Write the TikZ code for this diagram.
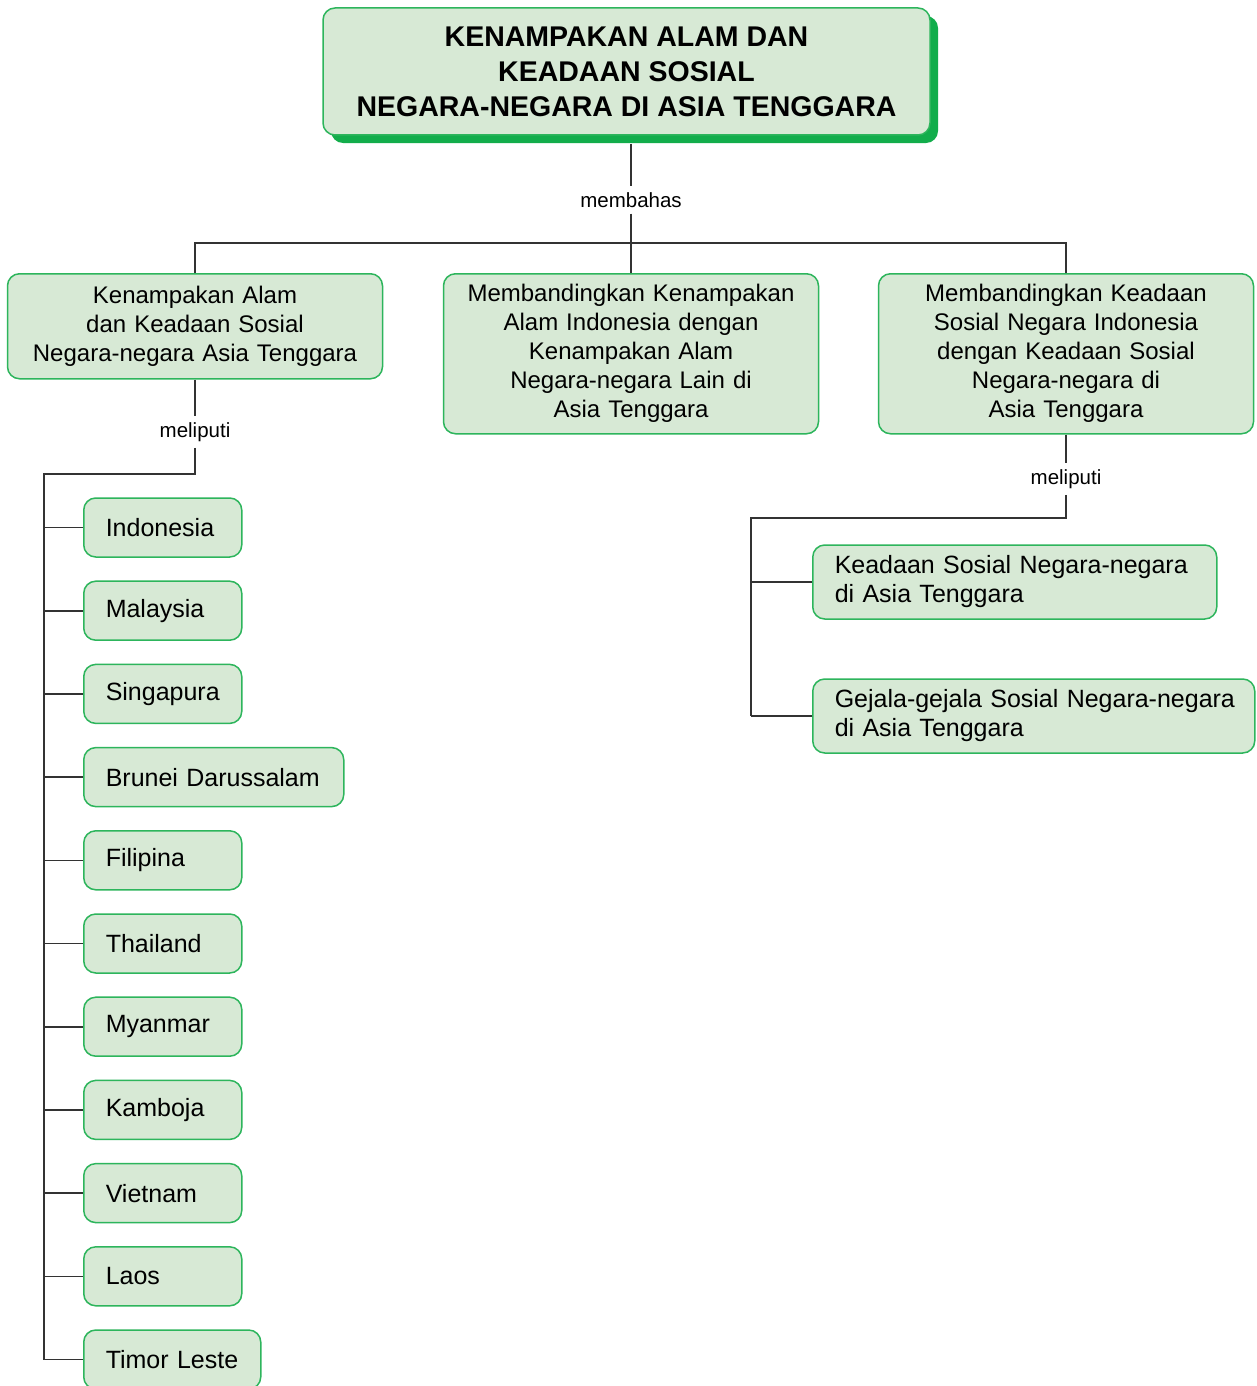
\documentclass[tikz,border=0pt]{standalone}
\usepackage{fontspec}
\setmainfont{Liberation Sans}
\newfontfamily\bodyf{Liberation Sans}[WordSpace=1.4]
\usetikzlibrary{shadows}
\definecolor{boxfill}{HTML}{D7E9D5}
\definecolor{boxline}{HTML}{2DB55C}
\definecolor{shadowg}{HTML}{12AD4B}
\definecolor{linec}{HTML}{333333}
\begin{document}
\begin{tikzpicture}[x=1pt,y=-1pt,
  box/.style={draw=boxline, fill=boxfill, rounded corners=12pt, line width=1.5pt, inner sep=0pt},
  topbox/.style={box, anchor=north, minimum width=375pt, text width=355pt, align=center,
    font=\bodyf\fontsize{24}{29}\selectfont},
  cbox/.style={box, anchor=west, minimum height=59pt, inner xsep=22pt, text width=114pt, align=left,
    font=\bodyf\fontsize{25}{29}\selectfont},
  sbox/.style={box, anchor=west, minimum height=74pt, inner xsep=22pt, align=left,
    font=\bodyf\fontsize{25}{29}\selectfont},
  lbl/.style={font=\fontsize{20.5}{24}\selectfont, inner sep=6pt},
  link/.style={draw=linec, line width=1.6pt}]
\clip (0,0) rectangle (1256,1386);
\fill[white] (0,0) rectangle (1256,1386);

% title
\node[box, drop shadow={shadow xshift=8pt, shadow yshift=-8pt, fill=shadowg, opacity=1},
  minimum width=607pt, minimum height=127pt, align=center,
  font=\bfseries\fontsize{28.5}{35}\selectfont] (title) at (626.5,71.5)
  {KENAMPAKAN ALAM DAN\\KEADAAN SOSIAL\\NEGARA-NEGARA DI ASIA TENGGARA};

% level 1
\node[lbl] (mb) at (631,200) {membahas};
\coordinate (hub) at (631,243);
\node[topbox, minimum height=105pt] (L) at (195,273)
  {Kenampakan Alam\\dan Keadaan Sosial\\Negara-negara Asia Tenggara};
\node[topbox, minimum height=160pt] (M) at (631,273)
  {Membandingkan Kenampakan\\Alam Indonesia dengan\\Kenampakan Alam\\Negara-negara Lain di\\Asia Tenggara};
\node[topbox, minimum height=160pt] (R) at (1066,273)
  {Membandingkan Keadaan\\Sosial Negara Indonesia\\dengan Keadaan Sosial\\Negara-negara di\\Asia Tenggara};

\draw[link] ([yshift=-8pt]title.south -| hub) -- (mb.north -| hub);
\draw[link] (mb.south -| hub) -- (hub);
\draw[link] (L.north) |- (hub) -| (R.north);
\draw[link] (hub) -- (M.north);

% left branch
\node[lbl] (mlL) at (195,432) {meliputi};
\coordinate (sL) at (44,474);
\node[cbox] (c1) at (83,527.5) {Indonesia};
\node[cbox] (c2) at (83,610.7) {Malaysia};
\node[cbox] (c3) at (83,693.9) {Singapura};
\node[cbox, text width=216pt] (c4) at (83,777.1) {Brunei Darussalam};
\node[cbox] (c5) at (83,860.3) {Filipina};
\node[cbox] (c6) at (83,943.5) {Thailand};
\node[cbox] (c7) at (83,1026.7) {Myanmar};
\node[cbox] (c8) at (83,1109.9) {Kamboja};
\node[cbox] (c9) at (83,1193.1) {Vietnam};
\node[cbox] (c10) at (83,1276.3) {Laos};
\node[cbox, text width=133pt] (c11) at (83,1359.5) {Timor Leste};

\draw[link] (L.south) -- (mlL.north);
\draw[link] (mlL.south) |- (sL) -- (sL |- c11.west);
\foreach \c in {c1,c2,c3,c4,c5,c6,c7,c8,c9,c10,c11}
  \draw[link] (sL |- \c.west) -- (\c.west);

% right branch
\node[lbl] (mlR) at (1066,479) {meliputi};
\coordinate (sR) at (751,518);
\node[sbox, minimum width=404pt, text width=360pt] (k1) at (812,582)
  {\mbox{Keadaan Sosial Negara-negara}\\di Asia Tenggara};
\node[sbox, minimum width=442pt, text width=398pt] (k2) at (812,716)
  {\mbox{Gejala-gejala Sosial Negara-negara}\\di Asia Tenggara};
\draw[link] (R.south) -- (mlR.north);
\draw[link] (mlR.south) |- (sR) -- (sR |- k2.west);
\draw[link] (sR |- k1.west) -- (k1.west);
\draw[link] (sR |- k2.west) -- (k2.west);
\end{tikzpicture}
\end{document}
